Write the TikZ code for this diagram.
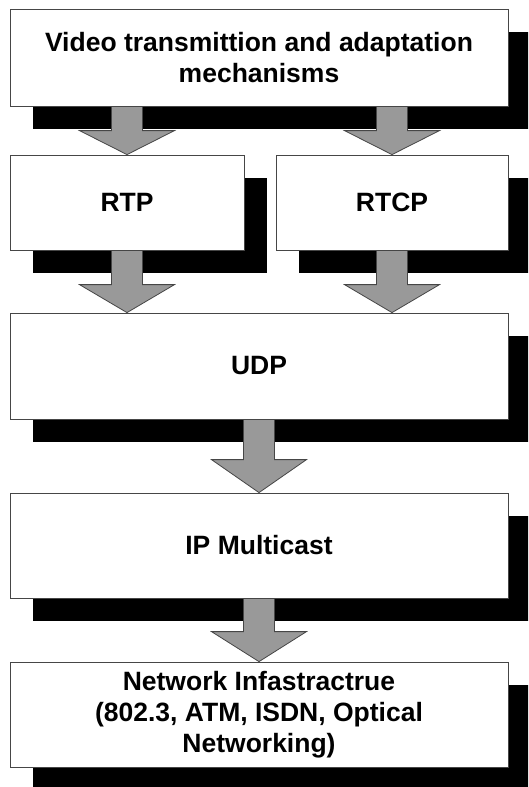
\documentclass[tikz,border=0pt]{standalone}
\usepackage{fontspec}
\setmainfont{Liberation Sans}
\usetikzlibrary{shadows,calc}
\definecolor{arrowgray}{RGB}{153,153,153}
\definecolor{edgegray}{RGB}{70,70,70}
\tikzset{
  layerbox/.style={draw=edgegray, line width=0.8pt, fill=white, inner sep=0pt,
    align=center, font=\fontsize{26.5}{31}\selectfont\bfseries,
    general shadow={fill=black, shadow xshift=23pt, shadow yshift=-23pt}},
  blockarrow/.style={draw=edgegray, line width=0.8pt, fill=arrowgray},
}
\newcommand\blkarrow[3]{%
  \draw[blockarrow] ($(#1)+(-15.5,0)$) -- ($(#2)+(-15.5,-#3)$) -- ($(#2)+(-47.5,-#3)$)
    -- (#2) -- ($(#2)+(47.5,-#3)$) -- ($(#2)+(15.5,-#3)$) -- ($(#1)+(15.5,0)$) -- cycle;}
\begin{document}
\begin{tikzpicture}[x=1pt,y=-1pt]
\clip (0,0) rectangle (528,787);
\fill[white] (0,0) rectangle (528,787);
\node[layerbox, minimum width=498pt, minimum height=97pt] (top) at (259,57.5)
  {Video transmittion and adaptation\\mechanisms};
\node[layerbox, minimum width=234pt, minimum height=95pt] (rtp) at (127,202.5) {RTP};
\node[layerbox, minimum width=232pt, minimum height=95pt] (rtcp) at (392,202.5) {RTCP};
\node[layerbox, minimum width=498pt, minimum height=106pt] (udp) at (259,366) {UDP};
\node[layerbox, minimum width=498pt, minimum height=105pt] (ip) at (259,545.5) {IP Multicast};
\node[layerbox, minimum width=498pt, minimum height=105pt] (net) at (259,714.5)
  {Network Infastractrue\\(802.3, ATM, ISDN, Optical\\Networking)};
\coordinate (a1s) at (top.south -| rtp.north);
\coordinate (a2s) at (top.south -| rtcp.north);
\coordinate (a3e) at (rtp.south |- udp.north);
\coordinate (a4e) at (rtcp.south |- udp.north);
\blkarrow{a1s}{rtp.north}{24}
\blkarrow{a2s}{rtcp.north}{24}
\blkarrow{rtp.south}{a3e}{28}
\blkarrow{rtcp.south}{a4e}{28}
\blkarrow{udp.south}{ip.north}{33}
\blkarrow{ip.south}{net.north}{30}
\end{tikzpicture}
\end{document}
